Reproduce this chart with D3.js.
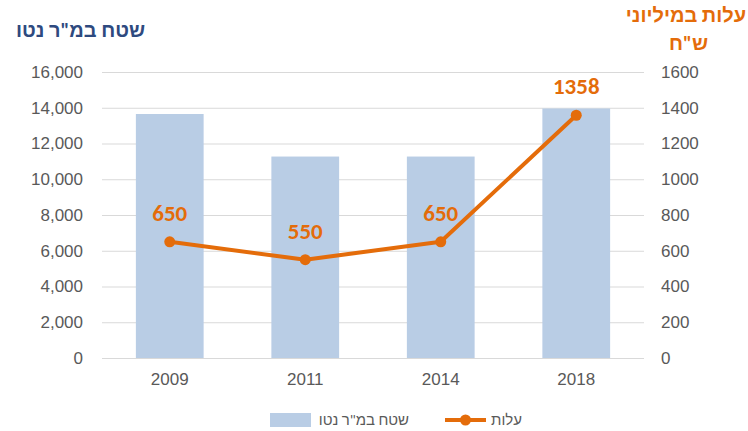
<!DOCTYPE html>
<html>
<head>
<meta charset="utf-8">
<script src="https://cdn.jsdelivr.net/npm/d3@7"></script>
<style>
  body { margin: 0; background: #fff; }
  svg { font-family: Calibri, Carlito, "Liberation Sans", Arial, sans-serif; }
  .ax text { font-family: "Liberation Sans Narrow", "Arial Narrow", "Liberation Sans", sans-serif; }
</style>
</head>
<body>
<div id="chart"></div>
<script>
(function(){

const years = ["2009", "2011", "2014", "2018"];
const area = [13650, 11270, 11270, 13960];   // שטח במ"ר נטו
const cost = [650, 550, 650, 1358];          // עלות במיליוני ש"ח
const leftTicks = [0, 2000, 4000, 6000, 8000, 10000, 12000, 14000, 16000];
const rightTicks = [0, 200, 400, 600, 800, 1000, 1200, 1400, 1600];

const width = 748;
const height = 431;
const margin = {top:72, right:104, bottom:73, left:102};

const blue = "#b9cde5";
const orange = "#e46c0a";
const grey = "#595959";

const svg = d3.select("#chart")
  .append("svg")
  .attr("width", width)
  .attr("height", height);

// scales
const x = d3.scaleBand()
  .domain(years)
  .range([margin.left, width - margin.right])
  .paddingInner(0.5)
  .paddingOuter(0.25);

const yL = d3.scaleLinear()
  .domain([0, 16000])
  .range([height - margin.bottom, margin.top]);

const yR = d3.scaleLinear()
  .domain([0, 1600])
  .range([height - margin.bottom, margin.top]);

// gridlines
svg.append("g")
  .selectAll("line")
  .data(leftTicks)
  .enter()
  .append("line")
  .attr("x1", margin.left)
  .attr("x2", width - margin.right)
  .attr("y1", d => yL(d) + 0.5)
  .attr("y2", d => yL(d) + 0.5)
  .attr("stroke", "#d9d9d9")
  .attr("stroke-width", 1);

// left axis
const axL = svg.append("g")
  .attr("class", "ax")
  .attr("transform", `translate(${margin.left - 14},0)`)
  .call(d3.axisLeft(yL).tickValues(leftTicks).tickFormat(d3.format(",")).tickSize(0).tickPadding(5));
axL.select(".domain").remove();
axL.selectAll("text").attr("fill", grey).style("font-size", "17px");

// right axis
const axR = svg.append("g")
  .attr("class", "ax")
  .attr("transform", `translate(${width - margin.right + 12},0)`)
  .call(d3.axisRight(yR).tickValues(rightTicks).tickFormat(d3.format("d")).tickSize(0).tickPadding(5));
axR.select(".domain").remove();
axR.selectAll("text").attr("fill", grey).style("font-size", "17px");

// bottom axis
const axB = svg.append("g")
  .attr("class", "ax")
  .attr("transform", `translate(0,${height - margin.bottom})`)
  .call(d3.axisBottom(x).tickSize(0).tickPadding(15));
axB.select(".domain").remove();
axB.selectAll("text").attr("fill", grey).style("font-size", "17px");

// bars
svg.selectAll(".bar")
  .data(years)
  .enter()
  .append("rect")
  .attr("class", "bar")
  .attr("x", d => x(d))
  .attr("y", (d,i) => yL(area[i]))
  .attr("width", x.bandwidth())
  .attr("height", (d,i) => yL(0) - yL(area[i]))
  .attr("fill", blue);

// line
const cx = d => x(d) + x.bandwidth()/2;
const line = d3.line()
  .x(d => cx(d))
  .y((d,i) => yR(cost[i]));

svg.append("path")
  .datum(years)
  .attr("fill", "none")
  .attr("stroke", orange)
  .attr("stroke-width", 4)
  .attr("stroke-linejoin", "round")
  .attr("d", line);

svg.selectAll(".dot")
  .data(years)
  .enter()
  .append("circle")
  .attr("cx", d => cx(d))
  .attr("cy", (d,i) => yR(cost[i]))
  .attr("r", 5.5)
  .attr("fill", orange);

// value labels
svg.selectAll(".label")
  .data(years)
  .enter()
  .append("text")
  .attr("x", d => cx(d))
  .attr("y", (d,i) => yR(cost[i]) - 21)
  .attr("text-anchor", "middle")
  .attr("fill", orange)
  .style("font-size", "23px")
  .style("font-weight", "bold")
  .text((d,i) => cost[i]);

// titles
svg.append("text")
  .attr("x", 145)
  .attr("y", 37)
  .attr("text-anchor", "end")
  .attr("fill", "#2e4a7f")
  .style("font-size", "20px")
  .style("font-weight", "bold")
  .text("שטח במ\"ר נטו");

svg.append("text")
  .attr("x", 746)
  .attr("y", 22)
  .attr("text-anchor", "end")
  .attr("fill", orange)
  .style("font-size", "20px")
  .style("font-weight", "bold")
  .text("עלות במיליוני");

svg.append("text")
  .attr("x", 708)
  .attr("y", 50)
  .attr("text-anchor", "end")
  .attr("fill", orange)
  .style("font-size", "20px")
  .style("font-weight", "bold")
  .text("ש\"ח");

// legend
const ly = 420;
svg.append("rect")
  .attr("x", 270)
  .attr("y", ly - 7)
  .attr("width", 41)
  .attr("height", 14)
  .attr("fill", blue);

svg.append("text")
  .attr("x", 409)
  .attr("y", ly + 5)
  .attr("text-anchor", "end")
  .attr("fill", grey)
  .style("font-size", "15px")
  .text("שטח במ\"ר נטו");

svg.append("line")
  .attr("x1", 445)
  .attr("x2", 486)
  .attr("y1", ly)
  .attr("y2", ly)
  .attr("stroke", orange)
  .attr("stroke-width", 4);

svg.append("circle")
  .attr("cx", 465.5)
  .attr("cy", ly)
  .attr("r", 5.5)
  .attr("fill", orange);

svg.append("text")
  .attr("x", 522)
  .attr("y", ly + 5)
  .attr("text-anchor", "end")
  .attr("fill", grey)
  .style("font-size", "15px")
  .text("עלות");

})();
</script>
</body>
</html>
